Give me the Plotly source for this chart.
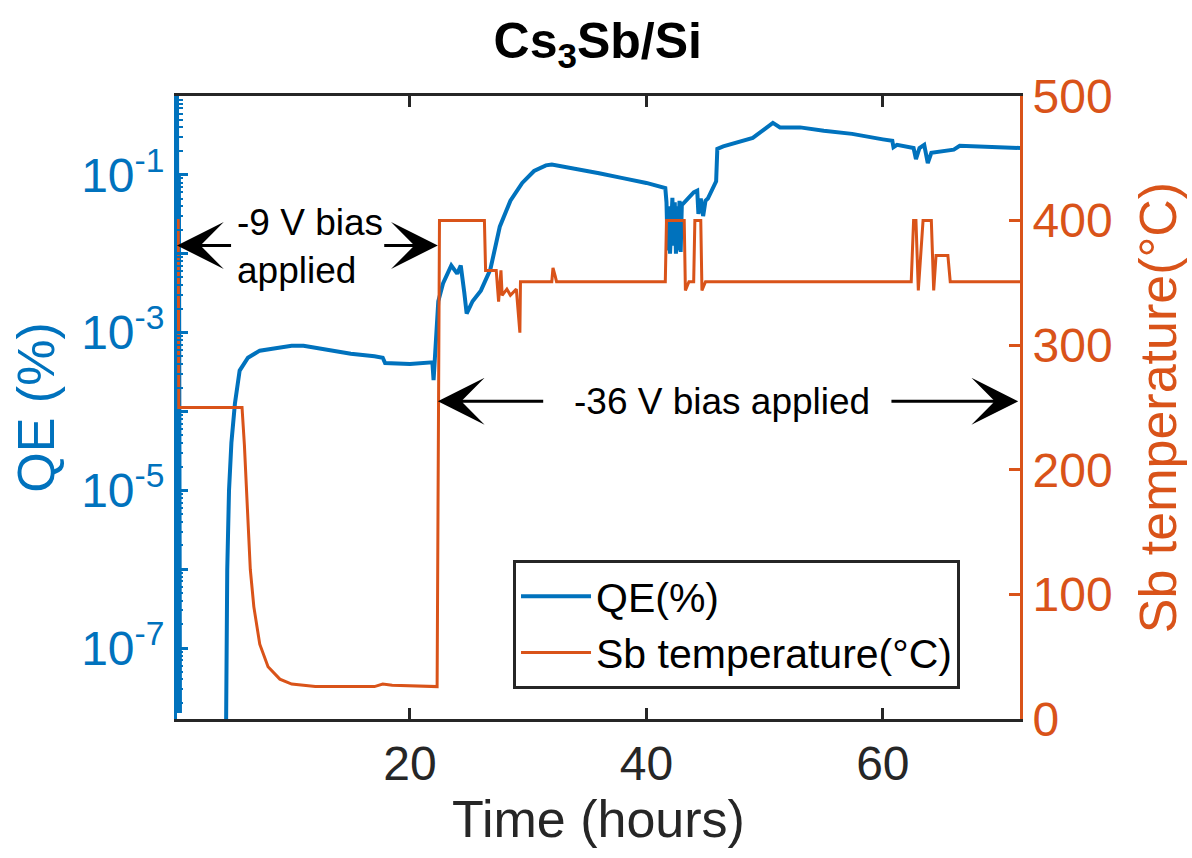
import plotly.graph_objects as go

# ---------------- data ----------------
qe_time = [0.30, 0.32, 0.34, 0.36, 0.38, 0.40, 0.42, 0.44, 0.46, 0.48, 0.50, 0.52, 0.55, None,
           4.40, 4.44, 4.55, 4.70, 4.90, 5.20, 5.60, 6.30, 7.30, 8.50, 10.0, 11.0, 13.0, 15.0, 17.0,
           17.7, 17.9, 20.0, 21.9, 22.0, 22.2, 22.4, 22.8, 23.5, 24.0, 24.3, 24.6, 24.8, 25.3, 26.0,
           26.8, 27.2, 27.6, 28.5, 29.5, 30.5, 31.5, 32.0, 34.0, 36.0, 38.0, 40.0, 41.6,
           41.7, 41.8, 41.9, 42.0, 42.1, 42.2, 42.3, 42.4, 42.5, 42.6, 42.7, 42.8, 42.9, 43.0,
           43.1, 43.5, 44.0, 44.3, 44.4, 44.6, 44.8, 45.0, 45.2, 45.9, 46.0, 46.5, 48.0, 49.0, 50.0,
           50.7, 51.3, 53.0, 55.0, 57.4, 60.0, 60.8, 60.9, 61.2, 62.6, 62.8, 63.1, 63.5, 63.8, 64.1,
           66.0, 66.5, 71.6]
qe_value = [1.0, 1e-7, 1e-2, 1e-6, 0.5, 1.5e-8, 1e-3, 1e-5, 0.1, 1e-7, 1e-4, 3e-6, 1.5e-8, None,
            1e-9, 1.26e-8, 1e-6, 1e-5, 4e-5, 1.26e-4, 3.3e-4, 4.8e-4, 5.9e-4, 6.3e-4, 6.8e-4, 6.8e-4,
            6.0e-4, 5.4e-4, 5.0e-4, 4.8e-4, 4.1e-4, 4.0e-4, 4.2e-4, 2.5e-4, 7.9e-4, 2.5e-3, 4.2e-3,
            7.1e-3, 5.6e-3, 7.1e-3, 3.2e-3, 1.74e-3, 2.5e-3, 3.4e-3, 6.3e-3, 1.26e-2, 2.2e-2, 4.7e-2,
            7.9e-2, 0.112, 0.132, 0.135, 0.120, 0.105, 0.091, 0.079, 0.068,
            0.045, 0.011, 0.040, 0.010, 0.032, 0.051, 0.0126, 0.045, 0.010, 0.040, 0.011, 0.047,
            0.0105, 0.043,
            0.043, 0.050, 0.060, 0.063, 0.032, 0.050, 0.030, 0.047, 0.050, 0.083, 0.214, 0.23, 0.27,
            0.295, 0.38, 0.457, 0.40, 0.40, 0.363, 0.331, 0.282, 0.27, 0.224, 0.24, 0.219, 0.158,
            0.219, 0.24, 0.141, 0.19, 0.209, 0.234, 0.219]

temp_time = [0.30, 0.40, 0.45, 5.8, 6.0, 6.2, 6.5, 6.8, 7.3, 8.0, 9.0, 10.0, 12.0, 17.0, 17.7,
             18.5, 21.9, 22.3, 22.5, 26.3, 26.4, 27.3, 27.5, 27.7, 27.8, 28.2, 28.5, 29.0, 29.3,
             29.35, 32.0, 32.1, 32.3, 32.4, 41.6, 41.7, 43.2, 43.3, 43.6, 44.0, 44.1, 44.6, 44.7,
             45.0, 62.4, 62.6, 62.8, 63.0, 63.4, 64.1, 64.3, 64.5, 65.5, 65.7, 71.6]
temp_value = [400, 400, 250, 250, 220, 176, 120, 90, 60, 42, 32, 28, 26, 26, 28,
              27, 26, 26, 400, 400, 360, 360, 335, 360, 340, 345, 340, 345, 310,
              351, 351, 362, 355, 351, 351, 400, 400, 344, 351, 351, 400, 400, 344,
              351, 351, 400, 400, 344, 400, 400, 344, 372, 372, 351, 351]

qe_tickvals = [1e0, 1e-1, 1e-2, 1e-3, 1e-4, 1e-5, 1e-6, 1e-7]
qe_ticktext = ["", "10<sup>-1</sup>", "", "10<sup>-3</sup>", "", "10<sup>-5</sup>", "", "10<sup>-7</sup>"]
temp_tickvals = [0, 100, 200, 300, 400, 500]
time_tickvals = [20, 40, 60]

BLUE = "#0072BD"
ORANGE = "#D95319"
DARK = "#262626"
FONT = "Liberation Sans, Arial, sans-serif"

fig = go.Figure()
fig.add_trace(go.Scatter(x=qe_time, y=qe_value, mode="lines", name="QE(%)",
                         line=dict(color=BLUE, width=4), yaxis="y", connectgaps=False))
fig.add_trace(go.Scatter(x=temp_time, y=temp_value, mode="lines", name="Sb temperature(°C)",
                         line=dict(color=ORANGE, width=3), yaxis="y2"))

minor_vals = [k * 10.0 ** e for e in range(-8, 0) for k in range(2, 10)]

fig.update_layout(
    width=1192, height=858,
    margin=dict(l=177, r=172, t=96, b=139),
    paper_bgcolor="white", plot_bgcolor="white",
    font=dict(family=FONT, color=DARK),
    showlegend=True,
    title=dict(text="<b>Cs<sub>3</sub>Sb/Si</b>", x=0.5015, xanchor="center",
               y=0.953, yanchor="middle", yref="container",
               font=dict(size=50, color="black", family=FONT)),
    xaxis=dict(range=[0.3, 71.6], tickvals=time_tickvals, ticks="inside", ticklen=11,
               tickwidth=3, tickcolor=DARK, showline=True, linecolor=DARK, linewidth=3,
               mirror="ticks", showgrid=False, zeroline=False,
               tickfont=dict(size=48, color=DARK),
               title=dict(text="Time (hours)", font=dict(size=52, color=DARK), standoff=12)),
    yaxis=dict(type="log", range=[-7.9, 0], tickvals=qe_tickvals, ticktext=qe_ticktext,
               ticks="inside", ticklen=11, tickwidth=3, tickcolor=BLUE,
               showline=True, linecolor=BLUE, linewidth=3, showgrid=False, zeroline=False,
               minor=dict(ticks="inside", ticklen=6, tickwidth=2, tickcolor=BLUE,
                          tickvals=minor_vals, showgrid=False),
               tickfont=dict(size=48, color=BLUE),
               title=dict(text="QE (%)", font=dict(size=52, color=BLUE), standoff=10)),
    yaxis2=dict(overlaying="y", side="right", range=[0, 500], tickvals=temp_tickvals,
                ticks="inside", ticklen=11, tickwidth=3, tickcolor=ORANGE,
                showline=True, linecolor=ORANGE, linewidth=3, showgrid=False, zeroline=False,
                tickfont=dict(size=48, color=ORANGE),
                title=dict(text="Sb temperature(°C)", font=dict(size=52, color=ORANGE), standoff=28)),
    legend=dict(x=0.3986, y=0.2552, xanchor="left", yanchor="top",
                bgcolor="white", bordercolor=DARK, borderwidth=3,
                font=dict(size=41, color="black"), itemwidth=70, tracegroupgap=0),
)

ann_font = dict(size=37, color="black", family=FONT)
arrows = [
    # (head_x, tail_x, y)
    (0.3, 5.0, 380),
    (22.36, 17.7, 380),
    (22.36, 31.4, 255),
    (71.45, 60.6, 255),
]
for hx, tx, yy in arrows:
    fig.add_annotation(x=hx, y=yy, xref="x", yref="y2", ax=tx, ay=yy, axref="x", ayref="y2",
                       text="", showarrow=True, arrowhead=3, arrowsize=2.6, arrowwidth=3,
                       arrowcolor="black")

fig.add_annotation(x=5.2, y=379, xref="x", yref="y2", text="-9 V bias<br>applied",
                   showarrow=False, xanchor="left", yanchor="middle", align="left", font=ann_font)
fig.add_annotation(x=33.7, y=255, xref="x", yref="y2", text="-36 V bias applied",
                   showarrow=False, xanchor="left", yanchor="middle", align="left", font=ann_font)

fig.write_html("out.html")
